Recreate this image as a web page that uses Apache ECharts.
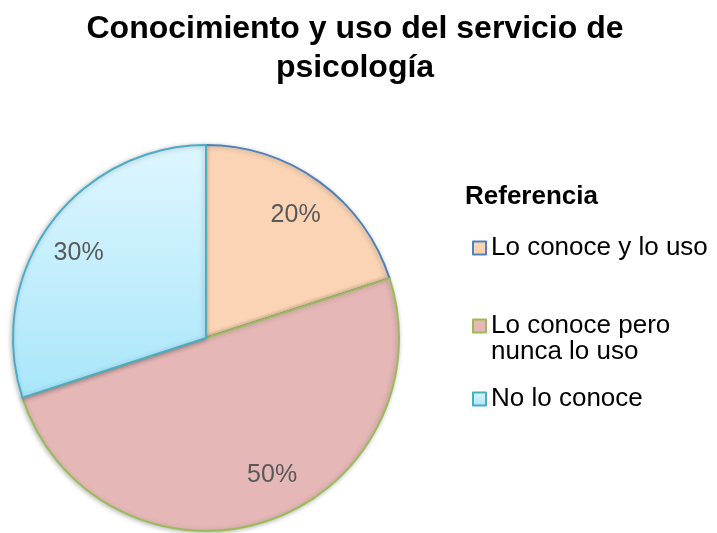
<!DOCTYPE html>
<html>
<head>
<meta charset="utf-8">
<script src="https://cdn.jsdelivr.net/npm/echarts@6/dist/echarts.min.js"></script>
<style>
html,body{margin:0;padding:0;background:#fff;}
#main{width:717px;height:533px;}
</style>
</head>
<body>
<div id="main"></div>
<script>
// datos del grafico
var categorias = ['Lo conoce y lo uso', 'Lo conoce pero nunca lo uso', 'No lo conoce'];
var valores = [20, 50, 30];
var rellenos = ['#FAD4B4', '#E5B8B7', null];
var bordes = ['#4F81BD', '#9BBB59', '#4BACC6'];

window.addEventListener("load", function () {
    var myChart = echarts.init(document.getElementById('main'));

    var celeste = new echarts.graphic.LinearGradient(0, 0, 0, 1, [
        {offset: 0, color: '#DEF6FE'},
        {offset: 1, color: '#A8E6FA'}
    ]);

    var datos = categorias.map(function (c, i) {
        return {
            value: valores[i],
            name: c,
            itemStyle: {color: rellenos[i] || celeste, borderColor: bordes[i]}
        };
    });

    // etiquetas: la del 50% va algo corrida como en el original
    var etiquetas = categorias.map(function (c, i) {
        var d = {value: valores[i], name: c};
        if (i === 1) d.label = {offset: [19, -8]};
        if (i === 2) d.label = {offset: [-4, 5]};
        return d;
    });

    var letra = {fontFamily: 'Liberation Sans', fontSize: 26, lineHeight: 26, color: '#000'};

    var leyenda = function (i, top, fmt) {
        var l = {
            orient: 'vertical',
            left: 467,
            top: top,
            icon: 'rect',
            itemWidth: 13,
            itemHeight: 13,
            itemGap: 0,
            selectedMode: false,
            data: [categorias[i]],
            itemStyle: {borderWidth: 2},
            textStyle: letra
        };
        if (fmt) l.formatter = fmt;
        return l;
    };

    var option = {
        animation: false,
        title: {
            text: 'Conocimiento y uso del servicio de\npsicología',
            left: 350,
            top: 5,
            textAlign: 'center',
            textStyle: {fontFamily: 'Liberation Sans', fontWeight: 'bold', fontSize: 32, lineHeight: 39, color: '#000'}
        },
        graphic: [{
            type: 'text',
            left: 465,
            top: 184,
            style: {text: 'Referencia', font: 'bold 26px "Liberation Sans"', fill: '#000'}
        }, {
            type: 'text',
            x: 491,
            y: 352,
            style: {text: 'nunca lo uso', font: '26px "Liberation Sans"', fill: '#000', verticalAlign: 'middle'}
        }],
        legend: [
            leyenda(0, 230),
            leyenda(1, 308, function () { return 'Lo conoce pero'; }),
            leyenda(2, 381)
        ],
        series: [
            {
                name: 'Conocimiento',
                type: 'pie',
                center: [206, 338],
                radius: [0, 193],
                startAngle: 90,
                clockwise: true,
                label: {show: false},
                labelLine: {show: false},
                itemStyle: {borderWidth: 2, shadowBlur: 5, shadowColor: 'rgba(0,0,0,0.25)', shadowOffsetX: -1, shadowOffsetY: 1},
                emphasis: {disabled: true},
                data: datos
            },
            {
                name: 'etiquetas',
                type: 'pie',
                center: [206, 338],
                radius: [106, 193],
                startAngle: 90,
                clockwise: true,
                silent: true,
                itemStyle: {color: 'rgba(0,0,0,0)', borderWidth: 0},
                label: {
                    show: true,
                    position: 'inside',
                    formatter: '{c}%',
                    fontFamily: 'Liberation Sans',
                    fontSize: 25,
                    color: '#595959'
                },
                labelLine: {show: false},
                emphasis: {disabled: true},
                data: etiquetas
            }
        ]
    };

    myChart.setOption(option);
}, false);
</script>
</body>
</html>
